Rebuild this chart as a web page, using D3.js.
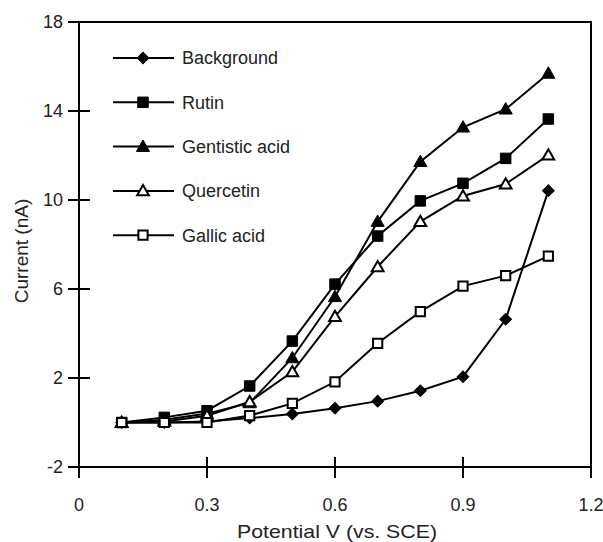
<!DOCTYPE html>
<html><head><meta charset="utf-8">
<script src="https://cdn.jsdelivr.net/npm/d3@7"></script>
<style>body{margin:0;background:#fff}</style>
</head><body>
<svg id="c" width="603" height="542"></svg>
<script>
const potentials = [0.1,0.2,0.3,0.4,0.5,0.6,0.7,0.8,0.9,1.0,1.1];
const background = [0,0,0.05,0.2,0.38,0.64,0.96,1.43,2.06,4.64,10.42];
const rutin = [0,0.23,0.53,1.64,3.66,6.22,8.38,9.96,10.75,11.87,13.64];
const gentisticAcid = [0,0.12,0.4,0.88,2.9,5.65,9.03,11.72,13.27,14.08,15.69];
const quercetin = [0,0.05,0.3,0.93,2.28,4.76,7.0,9.03,10.18,10.72,12.02];
const gallicAcid = [0,0,0,0.31,0.86,1.83,3.56,4.98,6.13,6.6,7.48];
const seriesNames = ["Background","Rutin","Gentistic acid","Quercetin","Gallic acid"];
const xTicks = [0,0.3,0.6,0.9,1.2];
const yTicks = [-2,2,6,10,14,18];

const series = [
  {name:seriesNames[0], values:background, shape:"diamond", fill:"#000"},
  {name:seriesNames[1], values:rutin, shape:"square", fill:"#000"},
  {name:seriesNames[2], values:gentisticAcid, shape:"triangle", fill:"#000"},
  {name:seriesNames[3], values:quercetin, shape:"triangle", fill:"#fff"},
  {name:seriesNames[4], values:gallicAcid, shape:"square", fill:"#fff"}
];

const svg = d3.select("#c");
const L=79, R=591, T=22, B=467;
const x = d3.scaleLinear().domain([0,1.2]).range([L,R]);
const y = d3.scaleLinear().domain([-2,18]).range([B,T]);
const font = "Liberation Sans, Arial, sans-serif";

svg.append("rect").attr("x",L).attr("y",T).attr("width",R-L).attr("height",B-T)
  .attr("fill","none").attr("stroke","#000").attr("stroke-width",2);

yTicks.forEach(v=>{
  const yy=y(v);
  const inner = (v>-2 && v<18);
  svg.append("line").attr("x1",L-11).attr("x2",inner?L+11:L).attr("y1",yy).attr("y2",yy)
    .attr("stroke","#000").attr("stroke-width",2);
  svg.append("text").attr("x",L-16).attr("y",yy).attr("dy","0.35em").attr("text-anchor","end")
    .attr("font-family",font).attr("font-size",18).attr("fill","#222").text(v);
});
xTicks.forEach(v=>{
  const xx=x(v);
  const inner = (v>0 && v<1.2);
  svg.append("line").attr("x1",xx).attr("x2",xx).attr("y1",inner?B-10:B).attr("y2",B+11)
    .attr("stroke","#000").attr("stroke-width",2);
  svg.append("text").attr("x",xx).attr("y",511).attr("text-anchor","middle")
    .attr("font-family",font).attr("font-size",18).attr("fill","#222").text(v);
});

svg.append("text").attr("x",(L+R)/2+2).attr("y",538).attr("text-anchor","middle")
  .attr("font-family",font).attr("font-size",19).attr("fill","#222")
  .attr("textLength",200).attr("lengthAdjust","spacingAndGlyphs").text("Potential V (vs. SCE)");
svg.append("text").attr("transform","translate(28,251) rotate(-90)").attr("text-anchor","middle")
  .attr("font-family",font).attr("font-size",19).attr("fill","#222").text("Current (nA)");

function marker(g, shape, fill, cx, cy){
  let sym;
  if(shape==="diamond") sym=d3.symbol().type(d3.symbolSquare).size(68);
  else if(shape==="square") sym=d3.symbol().type(d3.symbolSquare).size(fill==="#000"?110:85);
  else sym=d3.symbol().type(d3.symbolTriangle).size(fill==="#000"?75:60);
  let tr=`translate(${cx},${cy+(shape==="triangle"?1:0)})`;
  if(shape==="diamond") tr+=" rotate(45)";
  g.append("path").attr("d",sym()).attr("transform",tr)
    .attr("fill",fill).attr("stroke","#000").attr("stroke-width",fill==="#000"?1:2);
}

const line = d3.line().x((d,i)=>x(potentials[i])).y(d=>y(d));
series.forEach(s=>{
  svg.append("path").attr("d",line(s.values)).attr("fill","none").attr("stroke","#000").attr("stroke-width",2);
});
series.forEach(s=>{
  const g=svg.append("g");
  s.values.forEach((v,i)=>marker(g,s.shape,s.fill,x(potentials[i]),y(v)));
});

const legY0=58, legDy=44.3;
series.forEach((s,i)=>{
  const ly=legY0+i*legDy;
  svg.append("line").attr("x1",113).attr("x2",174).attr("y1",ly).attr("y2",ly).attr("stroke","#000").attr("stroke-width",2);
  marker(svg,s.shape,s.fill,143,ly);
  svg.append("text").attr("x",182).attr("y",ly).attr("dy","0.35em")
    .attr("font-family",font).attr("font-size",18).attr("fill","#222").text(s.name);
});
</script>
</body></html>
